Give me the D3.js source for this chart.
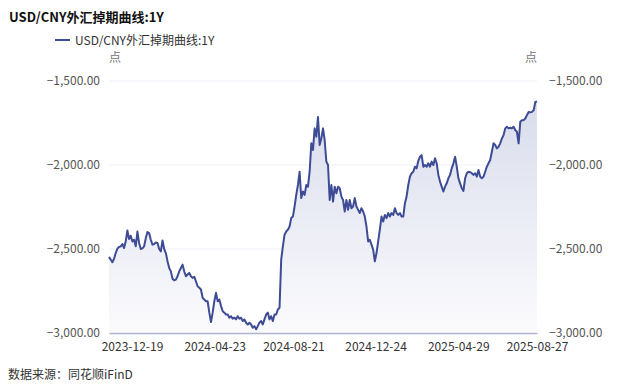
<!DOCTYPE html>
<html>
<head>
<meta charset="utf-8">
<script src="https://cdn.jsdelivr.net/npm/d3@7/dist/d3.min.js"></script>
<style>
  body { margin: 0; background: #fff; }
  svg { display: block; font-family: "Microsoft YaHei", "Noto Sans CJK SC", sans-serif; }
</style>
</head>
<body>
<script>
// chart text
var title = "USD/CNY外汇掉期曲线:1Y";
var seriesName = "USD/CNY外汇掉期曲线:1Y";
var unitLabel = "点";
var sourceText = "数据来源：同花顺iFinD";

// x axis: first and last day of the series, tick labels
var startDate = "2023-11-14";
var endDate = "2025-08-27";
var tickLabels = ["2023-12-19", "2024-04-23", "2024-08-21", "2024-12-24", "2025-04-29", "2025-08-27"];
var yTicks = [-3000, -2500, -2000, -1500];

// swap points, evenly spaced from startDate to endDate
var values = [
  -2547, -2563, -2579, -2559, -2524, -2498, -2488, -2484, -2470, -2494,
  -2455, -2390, -2441, -2421, -2455, -2445, -2484, -2396, -2464, -2500,
  -2496, -2484, -2435, -2399, -2405, -2445, -2474, -2470, -2461, -2464,
  -2500, -2514, -2449, -2500, -2524, -2573, -2613, -2633, -2678, -2686,
  -2682, -2662,
  -2633, -2613, -2593, -2633, -2662, -2652, -2642, -2662, -2672, -2666,
  -2692, -2722, -2731, -2741, -2790, -2801, -2811, -2811, -2879, -2935,
  -2879, -2811, -2761, -2811, -2801, -2840, -2870, -2879, -2890, -2890,
  -2909, -2900, -2915, -2909, -2919, -2900, -2915, -2909, -2929, -2919,
  -2939, -2949,
  -2939, -2949, -2969, -2959, -2978, -2959, -2939, -2929, -2949, -2919,
  -2890, -2879, -2919, -2900, -2929, -2890, -2890, -2860, -2850, -2563,
  -2484, -2415, -2396, -2385, -2366, -2316, -2307, -2247, -2178, -2119,
  -2040, -2197, -2158, -2178, -2119, -2129, -2040,
  -1871, -1911, -1782, -1832, -1714, -1881, -1842, -1782, -1852, -1980,
  -2000, -2208, -2119, -2218, -2129, -2168, -2129, -2138, -2188, -2208,
  -2277, -2208, -2267, -2208, -2257, -2247, -2197, -2247, -2267, -2286,
  -2257, -2277, -2307, -2366, -2455, -2445, -2474, -2504, -2573, -2524,
  -2455, -2385, -2307,
  -2336, -2297, -2316, -2286, -2307, -2286, -2297, -2257, -2286, -2297,
  -2286, -2307, -2307, -2227, -2188, -2119, -2069, -2049, -2040, -2010,
  -2020, -1975, -1951, -1941, -2010, -2000, -2010, -1990, -2010, -1980,
  -2000, -1960, -1990, -2059, -2099, -2129, -2158, -2129, -2109, -2079,
  -2059,
  -2020, -1990, -1951, -2010, -2079, -2109, -2138, -2154, -2079, -2049,
  -2040, -2043, -2049, -2059, -2049, -2069, -2030, -2069, -2079, -2069,
  -2040, -2010, -1990, -1970, -1921, -1871, -1881, -1901, -1891, -1871,
  -1842, -1822, -1782, -1772, -1782, -1778, -1782, -1772, -1792, -1802,
  -1871, -1743, -1733, -1733, -1723, -1703, -1684, -1687, -1684, -1674,
  -1625, -1621
];

var width = 640, height = 389;
var margin = {top: 81, right: 103, bottom: 56, left: 109};
var parse = d3.utcParse("%Y-%m-%d");
var t0 = parse(startDate), t1 = parse(endDate);
var step = (t1 - t0) / (values.length - 1);

var data = values.map(function (v, i) {
  return {date: new Date(t0.getTime() + i * step), value: v};
});

var svg = d3.select("body").append("svg")
  .attr("width", width)
  .attr("height", height);

var x = d3.scaleUtc()
  .domain([t0, t1])
  .range([margin.left, width - margin.right]);

var y = d3.scaleLinear()
  .domain([-3000, -1500])
  .range([height - margin.bottom, margin.top]);

var fmt = d3.format(",.2f");
var font = "\"Microsoft YaHei\", \"Noto Sans CJK SC\", sans-serif";

// gridlines
svg.append("g")
  .selectAll("line")
  .data(yTicks.slice(1))
  .enter().append("line")
    .attr("x1", x.range()[0])
    .attr("x2", x.range()[1])
    .attr("y1", function (d) { return y(d); })
    .attr("y2", function (d) { return y(d); })
    .attr("stroke", "#eef0f6")
    .attr("stroke-width", 1);

// area gradient
var grad = svg.append("defs").append("linearGradient")
  .attr("id", "areaFill")
  .attr("x1", 0).attr("y1", 0).attr("x2", 0).attr("y2", 1);
grad.append("stop").attr("offset", "0%").attr("stop-color", "#d9dcec");
grad.append("stop").attr("offset", "100%").attr("stop-color", "#fbfbfd");

var area = d3.area()
  .x(function (d) { return x(d.date); })
  .y0(y(-3000))
  .y1(function (d) { return y(d.value); });

var line = d3.line()
  .x(function (d) { return x(d.date); })
  .y(function (d) { return y(d.value); });

svg.append("path")
  .datum(data)
  .attr("d", area)
  .attr("fill", "url(#areaFill)");

svg.append("path")
  .datum(data)
  .attr("d", line)
  .attr("fill", "none")
  .attr("stroke", "#3e4b95")
  .attr("stroke-width", 2)
  .attr("stroke-linejoin", "round");

// x axis
var xAxis = d3.axisBottom(x)
  .tickValues(tickLabels.map(parse))
  .tickFormat(d3.utcFormat("%Y-%m-%d"))
  .tickSize(0)
  .tickPadding(9);

var gx = svg.append("g")
  .attr("transform", "translate(0," + y(-3000) + ")")
  .call(xAxis);
gx.select(".domain").attr("stroke", "#aeb5cf").attr("stroke-width", 1.5);
gx.selectAll("text")
  .attr("fill", "#333")
  .style("font-size", "12px")
  .style("font-family", font);

// y axes, both sides
var yLeft = d3.axisLeft(y).tickValues(yTicks).tickFormat(fmt).tickSize(0).tickPadding(9);
var yRight = d3.axisRight(y).tickValues(yTicks).tickFormat(fmt).tickSize(0).tickPadding(12);

[[yLeft, margin.left, 0], [yRight, width - margin.right, 0]].forEach(function (a) {
  var g = svg.append("g")
    .attr("transform", "translate(" + a[1] + ",0)")
    .call(a[0]);
  g.select(".domain").remove();
  g.selectAll("text")
    .attr("fill", "#555")
    .style("font-size", "12px")
    .style("font-family", font);
});

// unit labels
svg.append("text")
  .attr("x", margin.left + 6).attr("y", 62)
  .attr("text-anchor", "middle")
  .attr("fill", "#777").style("font-size", "12px")
  .text(unitLabel);
svg.append("text")
  .attr("x", width - margin.right - 6).attr("y", 62)
  .attr("text-anchor", "middle")
  .attr("fill", "#777").style("font-size", "12px")
  .text(unitLabel);

// title
svg.append("text")
  .attr("x", 9).attr("y", 22)
  .attr("fill", "#111")
  .style("font-size", "13px").style("font-weight", "bold")
  .text(title);

// legend
svg.append("line")
  .attr("x1", 55).attr("x2", 70)
  .attr("y1", 40).attr("y2", 40)
  .attr("stroke", "#3e4b95").attr("stroke-width", 2);
svg.append("text")
  .attr("x", 75).attr("y", 44.5)
  .attr("fill", "#333").style("font-size", "12px")
  .text(seriesName);

// source
svg.append("text")
  .attr("x", 8).attr("y", 379)
  .attr("fill", "#333").style("font-size", "12px")
  .text(sourceText);
</script>
</body>
</html>
